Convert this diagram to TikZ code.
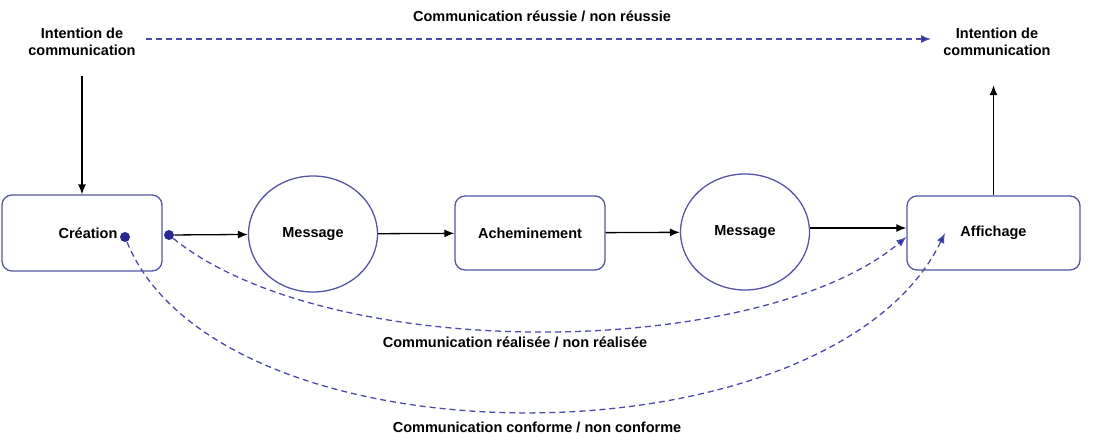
\documentclass[tikz,border=0pt]{standalone}
\usepackage{fontspec}
\setmainfont{Liberation Sans}
\usepackage{tikz}
\usetikzlibrary{shapes,arrows.meta,positioning,calc}
\usepackage{xcolor}
\definecolor{boxblue}{RGB}{85,85,165}
\definecolor{dashblue}{RGB}{75,75,170}
\definecolor{dotblue}{RGB}{40,40,150}

\begin{document}
\begin{tikzpicture}[x=1pt, y=-1pt, thick, font=\fontsize{14.5}{17}\selectfont\bfseries]
  \tikzstyle{block} = [rectangle, draw=boxblue, line width=1.3pt, rounded corners=10pt, minimum height=76pt, align=center]
  \tikzstyle{bubble} = [ellipse, draw=boxblue, line width=1.3pt, minimum width=129pt, minimum height=116pt, inner sep=0pt]
  \tikzstyle{title} = [align=center, inner sep=2pt]
  \tikzstyle{lbl} = [inner sep=1pt]
  \tikzstyle{dot} = [circle, fill=dotblue, inner sep=0pt, minimum size=10pt]
  \tikzstyle{arrow} = [draw, -{Latex[length=10pt,width=8pt]}, line width=1.3pt]
  \tikzstyle{dasharrow} = [draw=dashblue, -{Latex[length=10pt,width=8pt,fill=dotblue]}, line width=1.3pt, dash pattern=on 6pt off 4pt]

  \useasboundingbox (0,0) rectangle (1095,433);

  % intentions
  \node[title] (intl) at (82,42) {Intention de\\communication};
  \node[title] (intr) at (997,42) {Intention de\\communication};

  % main chain
  \node[block, minimum width=160pt] (crea) at (82,233) {\hspace*{12pt}Création};
  \node[bubble] (msg1) at (313,234) {Message};
  \node[block, minimum width=150pt, minimum height=74pt] (ach) at (530,233) {Acheminement};
  \node[bubble] (msg2) at (745,232) {\raisebox{2pt}{Message}};
  \node[block, minimum width=173pt, minimum height=74pt] (aff) at (993.5,233) {Affichage};

  \node[dot] (dotA) at (125,237) {};
  \node[dot] (dotB) at (169,235) {};
  \coordinate (affin) at (945,233);

  % labels
  \node[lbl] (lblreu) at (542,16) {Communication réussie / non réussie};
  \node[lbl] (lblrea) at (515,342) {Communication réalisée / non réalisée};
  \node[lbl] (lblcon) at (537,427) {Communication conforme / non conforme};

  \path[arrow, shorten <=18pt] (intl) -- (crea);
  \path[arrow] (dotB) -- (msg1);
  \path[arrow] (msg1) -- (ach);
  \path[arrow] (ach) -- (msg2);
  \path[arrow] ([yshift=4pt]msg2.east) -- ([yshift=4pt]msg2.east -| aff.west);
  \path[arrow, shorten >=27pt] (aff.north) -- (aff.north |- intr.south);

  \path[dasharrow, shorten <=8pt, shorten >=10pt] ([yshift=3pt]intl.east) -- ([yshift=3pt]intr.west);
  \path[dasharrow] (dotB) .. controls (330,365) and (760,360) .. ([yshift=-4pt]aff.west);
  \path[dasharrow] (dotA) .. controls (220,470) and (830,470) .. (affin);
\end{tikzpicture}
\end{document}
